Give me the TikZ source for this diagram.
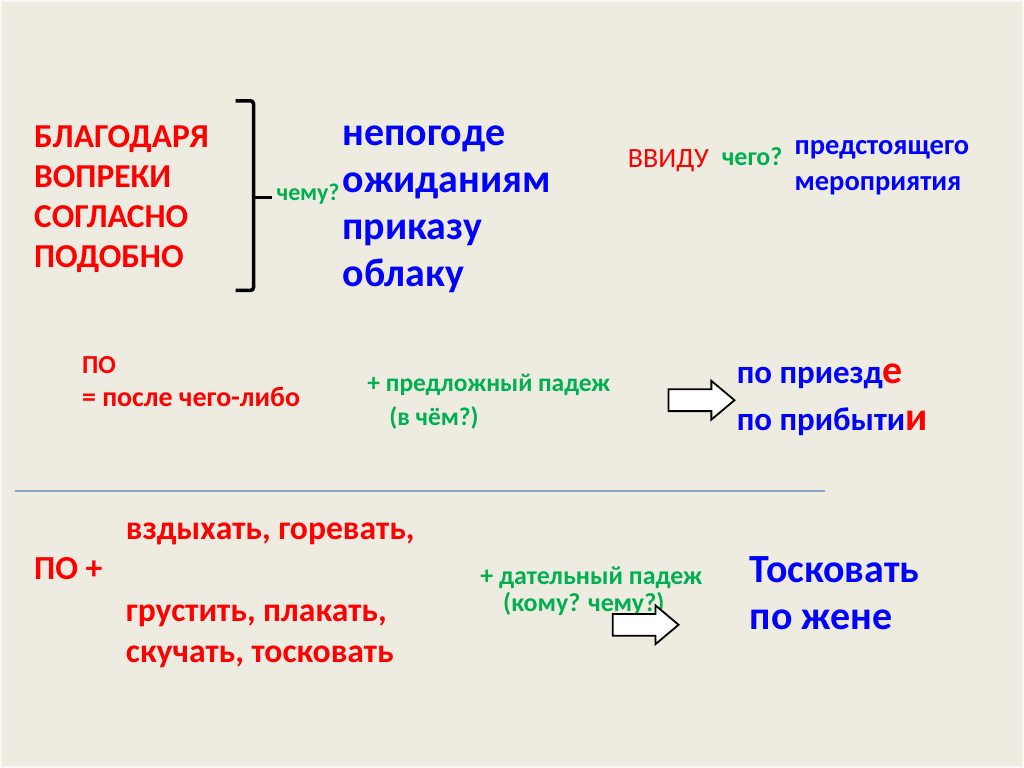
\documentclass[tikz,border=0pt]{standalone}
\usepackage{fontspec}
\setmainfont{Carlito}
\usetikzlibrary{shapes.arrows,positioning}
\definecolor{slidebg}{HTML}{EEECE1}
\definecolor{prepred}{HTML}{FF0000}
\definecolor{nounblue}{HTML}{0000FF}
\definecolor{askgreen}{HTML}{00B050}
\definecolor{rulegray}{HTML}{8CA5C4}
\newcommand{\fsz}[1]{\fontsize{#1}{#1}\selectfont}
\tikzset{
	word/.style={anchor=base west,inner sep=0pt,font=\bfseries\fsz{#1}},
	prep/.style={word=#1,text=prepred},
	noun/.style={word=#1,text=nounblue},
	ask/.style={word=#1,text=askgreen},
	brace/.style={line width=3.5pt,rounded corners=3pt},
	blockarr/.style={single arrow,draw,fill=white,line width=1.8pt,inner xsep=0pt,inner ysep=10pt,
		minimum height=66pt,single arrow head extend=8.5pt,single arrow tip angle=80,anchor=tail}
}

\begin{document}
\begin{tikzpicture}[x=1pt,y=-1pt]
		\fill[slidebg,draw=slidebg!40!white,line width=2pt] (0,0) rectangle (1024,767);
		\useasboundingbox (0,0) rectangle (1024,767);
		% top block
		\foreach \w [count=\i] in {БЛАГОДАРЯ,ВОПРЕКИ,СОГЛАСНО,ПОДОБНО}
			\node[prep=33.5] (p\i) at (33,147+40*\i-40) {\w};
		\draw[brace] (235,100) -- (253,100) -- (253,290) -- (235,290);
		\draw[brace] (253,197) -- (272,197);
		\node[ask=24] (q1) at (276,200) {чему?};
		\foreach \w [count=\i] in {непогоде,ожиданиям,приказу,облаку}
			\node[noun=40] (n\i) at (342,145+47*\i-47) {\w};
		\node[word=28,text=prepred,font=\mdseries\fsz{28}] (vvidu) at (628,167) {ВВИДУ};
		\node[ask=26] (q2) at (722,165) {чего?};
		\node[noun=28.5,align=left,anchor=north west,font=\bfseries\fontsize{28.5}{36}\selectfont] (event) at (795,140) {предстоящего\\мероприятия};
		% po = after
		\node[prep=26] (po1) at (81,373) {ПО};
		\node[prep=28] (after) at (81,406) {= после чего-либо};
		\node[ask=25.5] (case1) at (367,391) {+ предложный падеж};
		\node[ask=25.5] (q3) at (389,425) {(в чём?)};
		\node[blockarr] (arr1) at (668,400) {};
		\node[noun=33] (ex1) at (737,383) {по приезд\textcolor{prepred}{\fsz{40}е}};
		\node[noun=33] (ex2) at (737,430) {по прибыти\textcolor{prepred}{\fsz{40}и}};
		\coordinate (ruleL) at (14,491);
		\coordinate (ruleR) at (826,491);
		\draw[rulegray,line width=2pt] (ruleL) -- (ruleR);
		% po + dative
		\node[prep=33.7] (po2) at (33,580) {ПО +};
		\node[prep=33.7] (v1) at (125,540) {вздыхать, горевать,};
		\node[prep=33.7] (v2) at (125,622) {грустить, плакать,};
		\node[prep=33.7] (v3) at (125,663) {скучать, тосковать};
		\node[ask=26] (case2) at (480,585) {+ дательный падеж};
		\node[ask=26] (q4) at (503,612) {(кому? чему?)};
		\node[blockarr] (arr2) at (612,625) {};
		\node[noun=40] (ex3) at (750,583) {Тосковать};
		\node[noun=40] (ex4) at (750,630) {по жене};
	\end{tikzpicture}
\end{document}
